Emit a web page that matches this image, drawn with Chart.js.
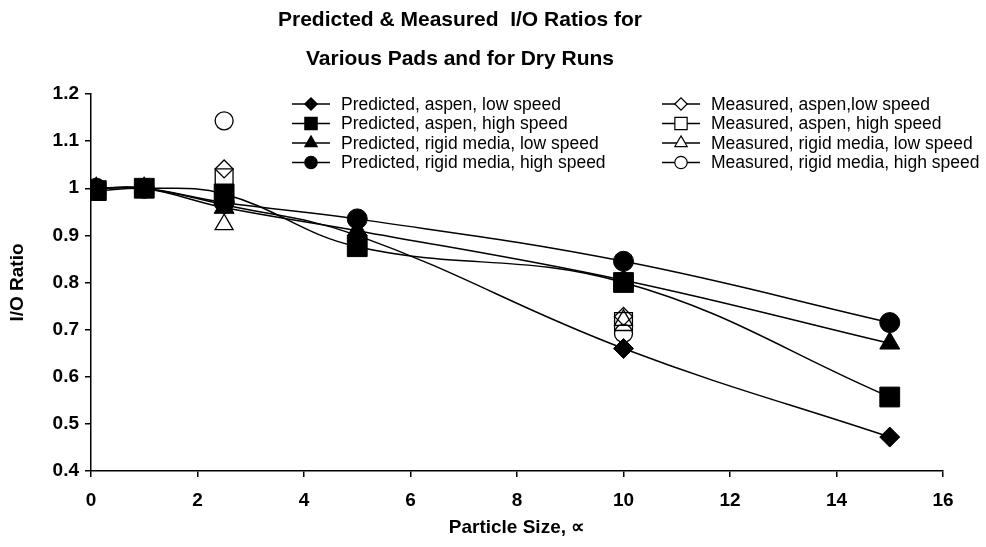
<!DOCTYPE html>
<html>
<head>
<meta charset="utf-8">
<script src="https://cdn.jsdelivr.net/npm/chart.js@4"></script>
<style>
  html, body { margin: 0; padding: 0; background: #fff; }
  #wrap { width: 986px; height: 547px; }
</style>
</head>
<body>
<div id="wrap"><canvas id="myChart"></canvas></div>
<script>
const FONT = "'Liberation Sans', Arial, sans-serif";

// particle sizes (x) and I/O ratios
const xPredicted = [0.1, 1, 2.5, 5, 10, 15];
const predAspenLow = [1.0, 1.0, 0.965, 0.90, 0.66, 0.472];
const predAspenHigh = [0.995, 1.0, 0.988, 0.876, 0.80, 0.557];
const predRigidLow = [1.0, 1.0, 0.959, 0.91, 0.805, 0.671];
const predRigidHigh = [1.0, 1.0, 0.97, 0.935, 0.845, 0.715];

const xMeasured = [2.5, 10];
const measAspenLow = [1.041, 0.728];
const measAspenHigh = [1.022, 0.717];
const measRigidLow = [0.923, 0.72];
const measRigidHigh = [1.143, 0.692];

const seriesLabels = [
  "Predicted, aspen, low speed",
  "Predicted, aspen, high speed",
  "Predicted, rigid media, low speed",
  "Predicted, rigid media, high speed",
  "Measured, aspen,low speed",
  "Measured, aspen, high speed",
  "Measured, rigid media, low speed",
  "Measured, rigid media, high speed",
];
const titleLines = ["Predicted & Measured  I/O Ratios for", "Various Pads and for Dry Runs"];
const xTicks = [0, 2, 4, 6, 8, 10, 12, 14, 16];

function pts(xs, ys) {
  return xs.map((x, i) => ({ x: x, y: ys[i] }));
}

const styles = ["rectRot", "rect", "triangle", "circle"];
const radii = [10, 14, 11.5, 10];

function predicted(i, ys) {
  return {
    label: seriesLabels[i],
    data: pts(xPredicted, ys),
    borderColor: "#000",
    borderWidth: 1.5,
    tension: 0.4,
    pointStyle: styles[i],
    pointRadius: radii[i],
    pointBackgroundColor: "#000",
    pointBorderColor: "#000",
    pointBorderWidth: 1,
    order: 1,
  };
}
function measured(i, ys) {
  return {
    label: seriesLabels[i + 4],
    data: pts(xMeasured, ys),
    showLine: false,
    borderColor: "#000",
    pointStyle: styles[i],
    pointRadius: radii[i] * 0.9,
    pointBackgroundColor: "rgba(255,255,255,0)",
    pointBorderColor: "#000",
    pointBorderWidth: 1.3,
    order: 2,
  };
}

// two-column legend drawn inside the plot, line + marker like the original
const boxLegend = {
  id: "boxLegend",
  afterDraw(chart) {
    const ctx = chart.ctx;
    const cols = [292, 662];
    const rows = [104, 123.5, 143, 162.5];
    ctx.save();
    ctx.font = "17.5px " + FONT;
    ctx.textBaseline = "middle";
    chart.data.datasets.forEach((ds, i) => {
      const x0 = cols[Math.floor(i / 4)];
      const y = rows[i % 4];
      const k = i % 4;
      ctx.strokeStyle = "#000";
      ctx.lineWidth = 1.5;
      ctx.beginPath();
      ctx.moveTo(x0, y);
      ctx.lineTo(x0 + 38, y);
      ctx.stroke();
      ctx.fillStyle = i < 4 ? "#000" : "#fff";
      ctx.lineWidth = 1.2;
      Chart.helpers.drawPoint(ctx, { pointStyle: styles[k], radius: radii[k] * 0.62, borderWidth: 1.2, rotation: 0 }, x0 + 19, y);
      ctx.fillStyle = "#000";
      ctx.fillText(ds.label, x0 + 49, y + 1);
    });
    ctx.restore();
  },
};

const titleDraw = {
  id: "titleDraw",
  afterDraw(chart) {
    const ctx = chart.ctx;
    ctx.save();
    ctx.font = "bold 21px " + FONT;
    ctx.textAlign = "center";
    ctx.textBaseline = "middle";
    ctx.fillStyle = "#000";
    ctx.fillText(titleLines[0], 460, 20);
    ctx.fillText(titleLines[1], 460, 59);
    ctx.restore();
  },
};

const tickFont = { family: FONT, size: 19, weight: "bold" };

new Chart(document.getElementById("myChart"), {
  type: "line",
  data: {
    datasets: [
      predicted(0, predAspenLow),
      predicted(1, predAspenHigh),
      predicted(2, predRigidLow),
      predicted(3, predRigidHigh),
      measured(0, measAspenLow),
      measured(1, measAspenHigh),
      measured(2, measRigidLow),
      measured(3, measRigidHigh),
    ],
  },
  options: {
    responsive: true,
    maintainAspectRatio: false,
    animation: false,
    layout: { padding: { top: 94, right: 43, left: 0, bottom: 0 } },
    plugins: {
      legend: { display: false },
      title: { display: false },
      tooltip: { enabled: false },
    },
    scales: {
      x: {
        type: "linear",
        min: 0,
        max: 16,
        afterBuildTicks: (s) => { s.ticks = xTicks.map((v) => ({ value: v })); },
        ticks: { font: tickFont, color: "#000", padding: 12 },
        grid: { drawOnChartArea: false, color: "#000", tickLength: 6, lineWidth: 1.5 },
        border: { color: "#000", width: 1.5 },
        title: { display: true, text: "Particle Size, ∝", font: tickFont, color: "#000", padding: { top: 8, bottom: 8 } },
        afterFit: (s) => { s.height = 76; },
      },
      y: {
        min: 0.4,
        max: 1.2,
        ticks: {
          stepSize: 0.1,
          font: tickFont,
          color: "#000",
          padding: 6,
          callback: (v) => String(Number(v.toFixed(1))),
        },
        grid: { drawOnChartArea: false, color: "#000", tickLength: 6, lineWidth: 1.5 },
        border: { color: "#000", width: 1.5 },
        title: { display: true, text: "I/O Ratio", font: tickFont, color: "#000", padding: { top: 6, bottom: 4 } },
        afterFit: (s) => { s.width = 91; },
      },
    },
  },
  plugins: [boxLegend, titleDraw],
});
</script>
</body>
</html>
